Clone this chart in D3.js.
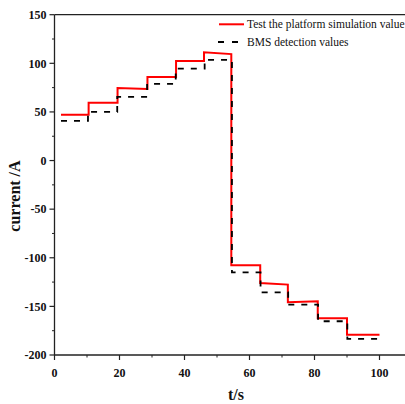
<!DOCTYPE html>
<html>
<head>
<meta charset="utf-8">
<script src="https://cdn.jsdelivr.net/npm/d3@7"></script>
<style>
  html, body { margin: 0; padding: 0; background: #fff; }
  svg { display: block; font-family: "Liberation Serif", "Times New Roman", serif; }
  .tick-label { font-size: 12px; font-weight: bold; fill: #111; }
  .axis-title { font-size: 16px; font-weight: bold; fill: #111; }
  .legend-text { font-size: 11.5px; fill: #111; }
</style>
</head>
<body>
<div id="chart"></div>
<script>
// step series (time in s, current in A)
const simTime = [2, 10.5, 10.5, 19.4, 19.4, 28.6, 28.6, 37.4, 37.4, 46, 46, 54.4, 54.4, 63.3, 63.3, 71.8, 71.8, 81, 81, 90, 90, 100];
const simCurrent = [47, 47, 59.5, 59.5, 74.5, 73.5, 85.8, 85.8, 102.3, 102.3, 111.3, 109.5, -107.8, -107.8, -125.9, -127.6, -145.8, -144.8, -162.2, -162.2, -179.3, -179.3];

const bmsTime = [2, 10.3, 10.3, 19.3, 19.3, 28.5, 28.5, 37.3, 37.3, 46.2, 46.2, 54.6, 54.6, 63.4, 63.4, 71.9, 71.9, 81.1, 81.1, 90.1, 90.1, 100];
const bmsCurrent = [40.8, 40.8, 50, 50, 65.4, 65.4, 78.8, 78.8, 94.5, 94.5, 103.5, 103.5, -115, -115, -135.5, -135.5, -148.2, -148.2, -165.3, -165.3, -183.4, -183.4];

const xTicks = [0, 20, 40, 60, 80, 100];
const xMinorTicks = [10, 30, 50, 70, 90];
const yTicks = [-200, -150, -100, -50, 0, 50, 100, 150];
const yMinorTicks = [-175, -125, -75, -25, 25, 75, 125];

const seriesNames = ["Test the platform simulation value", "BMS detection values"];

const width = 405, height = 404;

const svg = d3.select("#chart").append("svg")
    .attr("width", width)
    .attr("height", height);

const x = d3.scaleLinear().domain([0, 100]).range([54.5, 379.5]);
const y = d3.scaleLinear().domain([-200, 150]).range([355, 14.7]);

// frame: top, left, bottom (right edge runs off the picture)
const frame = svg.append("g").attr("stroke", "#222").attr("stroke-width", 1.3);
frame.append("line").attr("x1", x(0)).attr("x2", width).attr("y1", y(150)).attr("y2", y(150));
frame.append("line").attr("x1", x(0)).attr("x2", x(0)).attr("y1", y(150)).attr("y2", y(-200));
frame.append("line").attr("x1", x(0)).attr("x2", width).attr("y1", y(-200)).attr("y2", y(-200));

// y ticks
const yAxis = svg.append("g");
yAxis.selectAll(".ymaj").data(yTicks).join("line")
    .attr("x1", x(0) - 5).attr("x2", x(0))
    .attr("y1", d => y(d)).attr("y2", d => y(d))
    .attr("stroke", "#222").attr("stroke-width", 1.2);
yAxis.selectAll(".ymin").data(yMinorTicks).join("line")
    .attr("class", "ymin")
    .attr("x1", x(0) - 2.5).attr("x2", x(0))
    .attr("y1", d => y(d)).attr("y2", d => y(d))
    .attr("stroke", "#222").attr("stroke-width", 1);
yAxis.selectAll("text").data(yTicks).join("text")
    .attr("class", "tick-label")
    .attr("x", x(0) - 8)
    .attr("y", d => y(d))
    .attr("dy", "0.35em")
    .attr("text-anchor", "end")
    .text(d => d);

// x ticks
const xAxis = svg.append("g");
xAxis.selectAll(".xmaj").data(xTicks).join("line")
    .attr("x1", d => x(d)).attr("x2", d => x(d))
    .attr("y1", y(-200)).attr("y2", y(-200) + 5)
    .attr("stroke", "#222").attr("stroke-width", 1.2);
xAxis.selectAll(".xmin").data(xMinorTicks).join("line")
    .attr("class", "xmin")
    .attr("x1", d => x(d)).attr("x2", d => x(d))
    .attr("y1", y(-200)).attr("y2", y(-200) + 2.5)
    .attr("stroke", "#222").attr("stroke-width", 1);
xAxis.selectAll("text").data(xTicks).join("text")
    .attr("class", "tick-label")
    .attr("x", d => x(d))
    .attr("y", 376.5)
    .attr("text-anchor", "middle")
    .text(d => d);

// axis titles
svg.append("text")
    .attr("class", "axis-title")
    .attr("x", 236)
    .attr("y", 400)
    .attr("text-anchor", "middle")
    .text("t/s");

svg.append("text")
    .attr("class", "axis-title")
    .attr("transform", "translate(20, 196) rotate(-90)")
    .attr("text-anchor", "middle")
    .text("current /A");

// lines
const line = d3.line().x(d => x(d[0])).y(d => y(d[1]));

svg.append("path")
    .datum(d3.zip(simTime, simCurrent))
    .attr("fill", "none")
    .attr("stroke", "#ff0000")
    .attr("stroke-width", 2)
    .attr("d", line);

svg.append("path")
    .datum(d3.zip(bmsTime, bmsCurrent))
    .attr("fill", "none")
    .attr("stroke", "#000")
    .attr("stroke-width", 1.8)
    .attr("stroke-dasharray", "6,7")
    .attr("d", line);

// legend
const legend = svg.append("g");
legend.append("line")
    .attr("x1", 219).attr("x2", 244).attr("y1", 24.3).attr("y2", 24.3)
    .attr("stroke", "#ff0000").attr("stroke-width", 2);
legend.append("line")
    .attr("x1", 218).attr("x2", 244).attr("y1", 42).attr("y2", 42)
    .attr("stroke", "#000").attr("stroke-width", 2)
    .attr("stroke-dasharray", "6,8");
legend.selectAll("text").data(seriesNames).join("text")
    .attr("class", "legend-text")
    .attr("x", 247)
    .attr("y", (d, i) => 24.3 + i * 17.7)
    .attr("dy", "0.35em")
    .text(d => d);
</script>
</body>
</html>
